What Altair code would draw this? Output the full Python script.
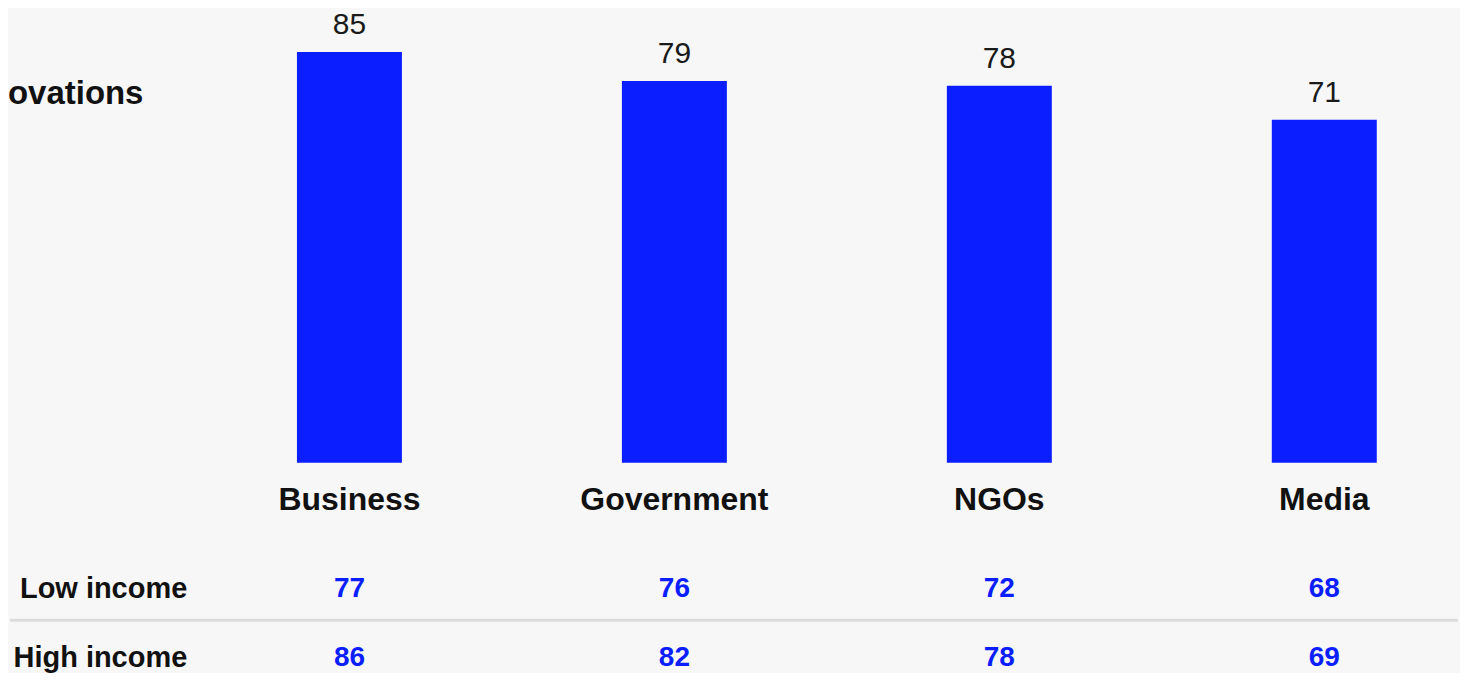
import altair as alt
import pandas as pd

categories = ["Business", "Government", "NGOs", "Media"]
overall = [85, 79, 78, 71]
low_income = [77, 76, 72, 68]
high_income = [86, 82, 78, 69]
row_labels = ["Low income", "High income"]
title_text = "ovations"

BLUE = "#0a1eff"
FONT = "Liberation Sans"
BG = "#f7f7f7"

df_top = pd.DataFrame({"cat": categories, "val": overall})
df_tab = pd.DataFrame({
    "cat": categories * 2,
    "row": [row_labels[0]] * 4 + [row_labels[1]] * 4,
    "val": low_income + high_income,
})

xscale = alt.Scale(type="band", domain=categories, paddingInner=0.677, paddingOuter=0.25)

base = alt.Chart(df_top)
bars = base.mark_bar(color=BLUE).encode(
    x=alt.X("cat:N", scale=xscale,
            axis=alt.Axis(title=None, labelFontSize=32, labelFont=FONT,
                          labelFontWeight="bold", labelColor="#111111",
                          labelPadding=22, ticks=False, domain=False,
                          labelAngle=0, labelLimit=0)),
    y=alt.Y("val:Q", scale=alt.Scale(domain=[0, 94], nice=False), axis=None),
)
vals = base.mark_text(baseline="alphabetic", dy=-18, fontSize=30, font=FONT,
                      color="#1a1a1a").encode(
    x=alt.X("cat:N", scale=xscale),
    y=alt.Y("val:Q"),
    text="val:Q",
)
title = alt.Chart(pd.DataFrame({"t": [title_text]})).mark_text(
    align="left", baseline="middle", fontSize=33, fontWeight="bold",
    font=FONT, color="#111111").encode(
    x=alt.value(-208), y=alt.value(86), text="t:N")

top = alt.layer(bars, vals, title).properties(width=1244, height=455)

yscale = alt.Scale(domain=row_labels, paddingInner=0.6, paddingOuter=0)
tab_text = alt.Chart(df_tab).mark_text(
    fontSize=28, fontWeight="bold", font=FONT, color=BLUE, baseline="middle").encode(
    x=alt.X("cat:N", scale=xscale, axis=None),
    y=alt.Y("row:N", scale=yscale,
            axis=alt.Axis(title=None, labelFontSize=29, labelFont=FONT,
                          labelFontWeight="bold", labelColor="#111111",
                          labelPadding=29, ticks=False, domain=False,
                          labelLimit=0)),
    text="val:Q",
)
sep = alt.Chart(pd.DataFrame({"row": [row_labels[1]]})).mark_rule(
    color="#dcdcdc", strokeWidth=3, yOffset=-37.5).encode(
    y=alt.Y("row:N", scale=yscale),
    x=alt.value(-206), x2=alt.value(1244))

bottom = alt.layer(sep, tab_text).properties(width=1244, height=97)

chart = alt.vconcat(top, bottom, spacing=58).properties(
    padding=0, background=BG
).configure_view(stroke=None)

chart.save("out.html", embed_options={"renderer": "svg", "actions": False})
